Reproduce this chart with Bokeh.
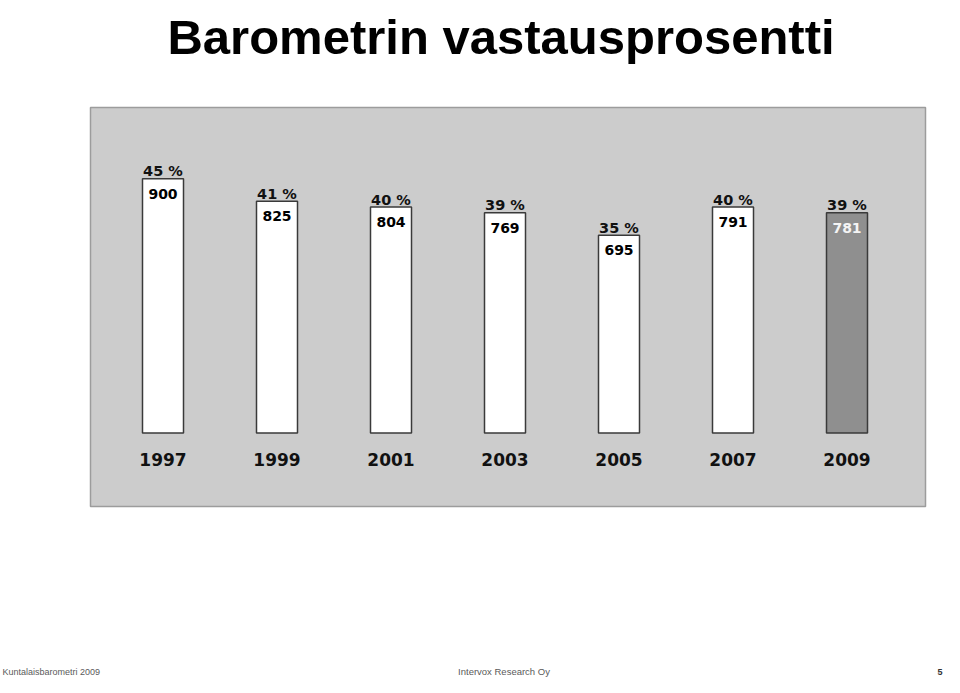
from bokeh.plotting import figure
from bokeh.models import Range1d, ColumnDataSource, Label
from bokeh.core.properties import value
from bokeh.embed import file_html
from bokeh.resources import INLINE

# ---- data ----
years = [1997, 1999, 2001, 2003, 2005, 2007, 2009]
year_labels = ["1997", "1999", "2001", "2003", "2005", "2007", "2009"]
pcts = [45, 41, 40, 39, 35, 40, 39]
counts = [900, 825, 804, 769, 695, 791, 781]

title_text = "Barometrin vastausprosentti"
footer_left = "Kuntalaisbarometri 2009"
footer_mid = "Intervox Research Oy"
footer_right = "5"

# ---- layout (pixels on the canvas) ----
W, H = 944, 677
PX_PER_YEAR = 57.0
PX_PER_PCT = 5.65
FIRST_CX = 162.5      # canvas x of first bar centre
BASE_CY = 432.5       # canvas y (from top) of value 0

x0 = years[0] - FIRST_CX / PX_PER_YEAR
x1 = x0 + W / PX_PER_YEAR
y1 = BASE_CY / PX_PER_PCT
y0 = y1 - H / PX_PER_PCT

def dx(cx):
    return x0 + cx / PX_PER_YEAR

def dy(cy):
    return y1 - cy / PX_PER_PCT

p = figure(width=W, height=H, output_backend="svg", toolbar_location=None,
           x_range=Range1d(x0, x1), y_range=Range1d(y0, y1),
           x_axis_location=None, y_axis_location=None, min_border=0)
p.outline_line_color = None
p.xgrid.visible = False
p.ygrid.visible = False
p.background_fill_color = "white"
p.border_fill_color = "white"

# grey panel
p.quad(left=[dx(90)], right=[dx(925)], top=[dy(107)], bottom=[dy(506)],
       fill_color="#cccccc", line_color="#9c9c9c", line_width=1.5)

fills = ["white"] * (len(years) - 1) + ["#8f8f8f"]
count_colors = ["black"] * (len(years) - 1) + ["#f4f4f4"]
src = ColumnDataSource(dict(
    x=years, top=pcts, fill=fills, cnt=[str(c) for c in counts],
    cnt_color=count_colors, pct=[f"{v} %" for v in pcts],
    yl=year_labels, zero=[0] * len(years)))

p.vbar(x="x", top="top", bottom=0, width=41 / PX_PER_YEAR, source=src,
       fill_color="fill", line_color="#3a3a3a", line_width=1.5)

font = value("DejaVu Sans")
p.text(x="x", y="top", text="pct", source=src, text_font=font,
       text_font_style="bold", text_font_size="14.5px", text_color="#111111",
       text_align="center", text_baseline="alphabetic", y_offset=-7.5)
p.text(x="x", y="top", text="cnt", source=src, text_font=font,
       text_font_style="bold", text_font_size="14px", text_color="cnt_color",
       text_align="center", text_baseline="middle", y_offset=15)
p.text(x="x", y="zero", text="yl", source=src, text_font=font,
       text_font_style="bold", text_font_size="17px", text_color="#111111",
       text_align="center", text_baseline="middle", y_offset=26.5)

# title
p.add_layout(Label(x=dx(500.5), y=dy(36), text=title_text,
                   text_font="Liberation Sans", text_font_style="bold",
                   text_font_size="49px", text_color="black",
                   text_align="center", text_baseline="alphabetic"))

# footer
p.add_layout(Label(x=dx(2), y=dy(671), text=footer_left,
                   text_font="Liberation Sans", text_font_size="9px",
                   text_color="#5a5a5a", text_align="left",
                   text_baseline="alphabetic"))
p.add_layout(Label(x=dx(503.5), y=dy(671), text=footer_mid,
                   text_font="Liberation Sans", text_font_size="9.5px",
                   text_color="#5a5a5a", text_align="center",
                   text_baseline="alphabetic"))
p.add_layout(Label(x=dx(942), y=dy(671), text=footer_right,
                   text_font="Liberation Sans", text_font_size="9px",
                   text_font_style="bold", text_color="#333333",
                   text_align="right", text_baseline="alphabetic"))

open("out.html", "w").write(file_html(p, INLINE))
